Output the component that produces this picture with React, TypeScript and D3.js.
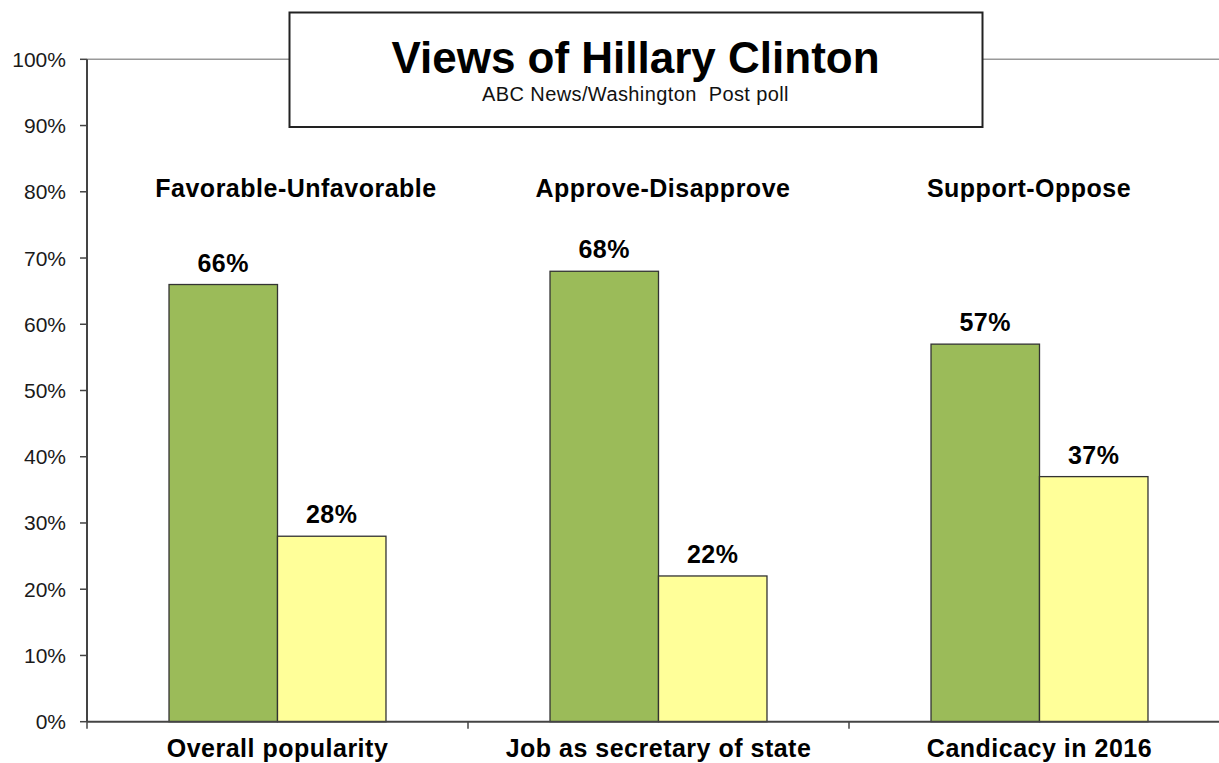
import React from "react";
import * as d3 from "d3";

const categories = ["Overall popularity", "Job as secretary of state", "Candicacy in 2016"];
const headers = ["Favorable-Unfavorable", "Approve-Disapprove", "Support-Oppose"];
const series = ["positive", "negative"];
const positive = [66, 68, 57];
const negative = [28, 22, 37];
const yTicks = [0, 10, 20, 30, 40, 50, 60, 70, 80, 90, 100];
const title = "Views of Hillary Clinton";
const subtitle = "ABC News/Washington  Post poll";

const W = 1219;
const H = 763;
const FONT = "'Liberation Sans', Arial, sans-serif";
const COLORS: Record<string, string> = { positive: "#9BBB59", negative: "#FFFF99" };

export default function App() {
  const left = 87;
  const step = 381;
  const x = d3.scaleBand<string>().domain(categories).range([left, left + step * categories.length]).padding(0);
  const xi = d3.scaleBand<string>().domain(series).range([0, x.bandwidth()]).paddingInner(0).paddingOuter(0.756);
  const y = d3.scaleLinear().domain([0, 100]).range([721.7, 59.3]);
  const values: Record<string, number[]> = { positive, negative };
  const headerDx = [18.5, 4.5, -10.5];
  const axisColor = "#444";

  return (
    <svg width={W} height={H} style={{ position: "absolute", left: 0, top: 0, background: "#fff" }} fontFamily={FONT}>
      {/* top gridline */}
      <line x1={left} x2={W} y1={y(100)} y2={y(100)} stroke="#999" strokeWidth={1.5} />
      {/* bars */}
      {categories.map((c, ci) =>
        series.map((s) => {
          const v = values[s][ci];
          const bx = (x(c) as number) + (xi(s) as number);
          return (
            <g key={c + s}>
              <rect x={bx} y={y(v)} width={xi.bandwidth()} height={y(0) - y(v)} fill={COLORS[s]} stroke="#333" strokeWidth={1.3} />
              <text x={bx + xi.bandwidth() / 2} y={y(v) - 12.8} textAnchor="middle" fontWeight="bold" fontSize={25} letterSpacing={0.5} fill="#000">
                {v}%
              </text>
            </g>
          );
        })
      )}
      {/* y axis */}
      <line x1={left} x2={left} y1={y(100)} y2={y(0)} stroke={axisColor} strokeWidth={2} />
      {yTicks.map((t) => (
        <g key={t}>
          <line x1={left - 7} x2={left} y1={y(t)} y2={y(t)} stroke={axisColor} strokeWidth={1.5} />
          <text x={66} y={y(t) + 7.5} textAnchor="end" fontSize={21} fill="#1a1a1a">
            {t}%
          </text>
        </g>
      ))}
      {/* x axis */}
      <line x1={left} x2={W} y1={y(0)} y2={y(0)} stroke={axisColor} strokeWidth={2} />
      {categories.map((c) => (
        <line key={"t" + c} x1={x(c)} x2={x(c)} y1={y(0)} y2={y(0) + 7} stroke={axisColor} strokeWidth={1.5} />
      ))}
      {categories.map((c) => (
        <text key={"l" + c} x={(x(c) as number) + x.bandwidth() / 2} y={757} textAnchor="middle" fontWeight="bold" fontSize={25} letterSpacing={0.5} fill="#000">
          {c}
        </text>
      ))}
      {/* group headers */}
      {headers.map((h, i) => (
        <text key={h} x={(x(categories[i]) as number) + x.bandwidth() / 2 + headerDx[i]} y={196.5} textAnchor="middle" fontWeight="bold" fontSize={25} letterSpacing={0.5} fill="#000">
          {h}
        </text>
      ))}
      {/* title box */}
      <rect x={289.5} y={12.5} width={693} height={114.5} fill="#fff" stroke="#222" strokeWidth={2} />
      <text x={635.5} y={72.7} textAnchor="middle" fontWeight="bold" fontSize={44} fill="#000">
        {title}
      </text>
      <text x={635.5} y={100.7} textAnchor="middle" fontSize={20} letterSpacing={0.4} fill="#111" style={{ whiteSpace: "pre" }}>
        {subtitle}
      </text>
    </svg>
  );
}
